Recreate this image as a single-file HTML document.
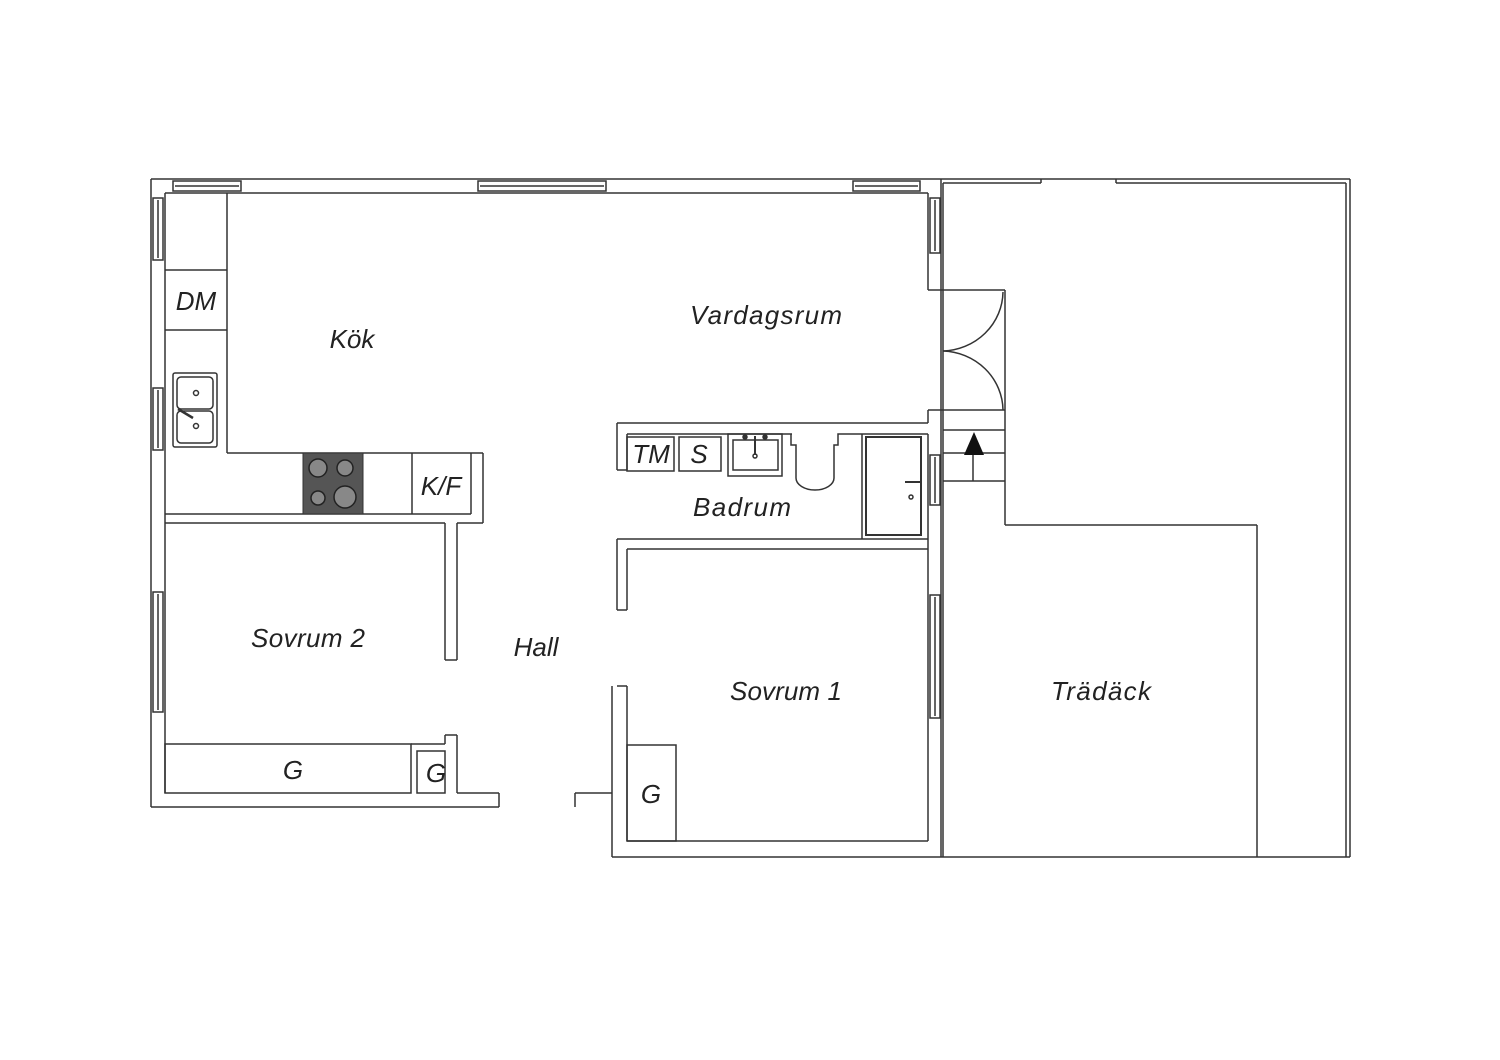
<!DOCTYPE html>
<html><head><meta charset="utf-8"><style>
html,body{margin:0;padding:0;background:#fff;}
svg{display:block}
text{font-family:"Liberation Sans",sans-serif;font-style:italic;fill:#222;}
</style></head><body>
<svg width="1500" height="1060" viewBox="0 0 1500 1060" xmlns="http://www.w3.org/2000/svg">
<g fill="none" stroke="#333" stroke-width="1.5">
<line x1="151" y1="179" x2="1350" y2="179"/>
<line x1="151" y1="179" x2="151" y2="807"/>
<line x1="151" y1="807" x2="499" y2="807"/>
<line x1="499" y1="807" x2="499" y2="793"/>
<line x1="457" y1="793" x2="499" y2="793"/>
<line x1="575" y1="807" x2="575" y2="793"/>
<line x1="575" y1="793" x2="612" y2="793"/>
<line x1="612" y1="686" x2="612" y2="857"/>
<line x1="612" y1="857" x2="1350" y2="857"/>
<line x1="165" y1="193" x2="928" y2="193"/>
<line x1="165" y1="193" x2="165" y2="793"/>
<line x1="928" y1="193" x2="928" y2="290"/>
<line x1="928" y1="290" x2="1005" y2="290"/>
<line x1="941" y1="179" x2="941" y2="857"/>
<line x1="943" y1="183" x2="943" y2="857"/>
<rect x="173" y="181" width="68" height="10"/><line x1="175" y1="186" x2="239" y2="186"/>
<rect x="478" y="181" width="128" height="10"/><line x1="480" y1="186" x2="604" y2="186"/>
<rect x="853" y="181" width="67" height="10"/><line x1="855" y1="186" x2="918" y2="186"/>
<rect x="153" y="198" width="10" height="62"/><line x1="158" y1="200" x2="158" y2="258"/>
<rect x="153" y="388" width="10" height="62"/><line x1="158" y1="390" x2="158" y2="448"/>
<rect x="153" y="592" width="10" height="120"/><line x1="158" y1="594" x2="158" y2="710"/>
<rect x="930" y="198" width="10" height="55"/><line x1="935" y1="200" x2="935" y2="251"/>
<rect x="930" y="455" width="10" height="50"/><line x1="935" y1="457" x2="935" y2="503"/>
<rect x="930" y="595" width="10" height="123"/><line x1="935" y1="597" x2="935" y2="716"/>
<line x1="227" y1="193" x2="227" y2="453"/>
<line x1="227" y1="453" x2="483" y2="453"/>
<line x1="165" y1="270" x2="227" y2="270"/>
<line x1="165" y1="330" x2="227" y2="330"/>
<line x1="165" y1="514" x2="471" y2="514"/>
<line x1="471" y1="453" x2="471" y2="514"/>
<line x1="412" y1="453" x2="412" y2="514"/>
<line x1="483" y1="453" x2="483" y2="523"/>
<line x1="165" y1="523" x2="445" y2="523"/>
<line x1="457" y1="523" x2="483" y2="523"/>
<rect x="173" y="373" width="44" height="74" rx="2"/>
<rect x="177" y="377" width="36" height="32" rx="4"/>
<rect x="177" y="411" width="36" height="32" rx="4"/>
<circle cx="196" cy="393" r="2.5"/><circle cx="196" cy="426" r="2.5"/>
<line x1="178" y1="409" x2="193" y2="418" stroke-width="2.5"/>
<line x1="445" y1="523" x2="445" y2="660"/>
<line x1="457" y1="523" x2="457" y2="660"/>
<line x1="445" y1="660" x2="457" y2="660"/>
<rect x="165" y="744" width="246" height="49"/>
<line x1="445" y1="744" x2="411" y2="744"/>
<line x1="445" y1="735" x2="445" y2="744"/>
<line x1="445" y1="735" x2="457" y2="735"/>
<line x1="457" y1="735" x2="457" y2="793"/>
<rect x="417" y="751" width="28" height="42"/>
<line x1="627" y1="549" x2="928" y2="549"/>
<line x1="627" y1="549" x2="627" y2="610"/>
<line x1="617" y1="539" x2="617" y2="610"/>
<line x1="617" y1="610" x2="627" y2="610"/>
<line x1="617" y1="539" x2="928" y2="539"/>
<line x1="617" y1="686" x2="627" y2="686"/>
<line x1="627" y1="686" x2="627" y2="841"/>
<line x1="627" y1="841" x2="928" y2="841"/>
<line x1="928" y1="410" x2="928" y2="423"/>
<line x1="928" y1="434" x2="928" y2="841"/>
<rect x="627" y="745" width="49" height="96"/>
<line x1="617" y1="423" x2="928" y2="423"/>
<line x1="617" y1="423" x2="617" y2="470"/>
<line x1="617" y1="470" x2="627" y2="470"/>
<line x1="627" y1="434" x2="792" y2="434"/>
<line x1="627" y1="434" x2="627" y2="470"/>
<rect x="627" y="437" width="47" height="34"/>
<rect x="679" y="437" width="42" height="34"/>
<rect x="728" y="434" width="54" height="42"/>
<rect x="733" y="440" width="45" height="30"/>
<line x1="755" y1="436" x2="755" y2="455" stroke-width="2"/>
<circle cx="755" cy="456" r="2"/>
<circle cx="745" cy="437" r="2" fill="#333"/><circle cx="765" cy="437" r="2" fill="#333"/>
<path d="M791 434 V445 H796 V478 A19 12 0 0 0 834 478 V445 H838 V434 H928"/>
<line x1="862" y1="434" x2="862" y2="539"/>
<rect x="866" y="437" width="55" height="98" stroke-width="2"/>
<line x1="905" y1="482" x2="922" y2="482" stroke-width="2"/>
<circle cx="911" cy="497" r="2"/>
<line x1="928" y1="410" x2="1005" y2="410"/>
<line x1="1005" y1="290" x2="1005" y2="525"/>
<path d="M1003 292 A62 60 0 0 1 943 351"/>
<path d="M943 351 A62 60 0 0 1 1003 410"/>
<line x1="943" y1="430" x2="1005" y2="430"/>
<line x1="943" y1="453" x2="1005" y2="453"/>
<line x1="943" y1="481" x2="1005" y2="481"/>
<line x1="973" y1="453" x2="973" y2="481"/>
<line x1="943" y1="183" x2="1041" y2="183"/>
<line x1="1041" y1="179" x2="1041" y2="183"/>
<line x1="1116" y1="179" x2="1116" y2="183"/>
<line x1="1116" y1="183" x2="1346" y2="183"/>
<line x1="1346" y1="183" x2="1346" y2="857"/>
<line x1="1350" y1="179" x2="1350" y2="857"/>
<line x1="1005" y1="525" x2="1257" y2="525"/>
<line x1="1257" y1="525" x2="1257" y2="857"/>
</g>
<polygon points="974,432 964,455 984,455" fill="#111"/>
<rect x="303" y="453" width="60" height="61" fill="#555" stroke="#333"/>
<g fill="#888" stroke="#222" stroke-width="1.5">
<circle cx="318" cy="468" r="9"/><circle cx="345" cy="468" r="8"/>
<circle cx="318" cy="498" r="7"/><circle cx="345" cy="497" r="11"/>
</g>
<g font-size="26">
<text x="352" y="348" text-anchor="middle">Kök</text>
<text x="766" y="324" text-anchor="middle" textLength="152">Vardagsrum</text>
<text x="742" y="516" text-anchor="middle" textLength="98">Badrum</text>
<text x="308" y="647" text-anchor="middle" textLength="114">Sovrum 2</text>
<text x="536" y="656" text-anchor="middle">Hall</text>
<text x="786" y="700" text-anchor="middle" textLength="112">Sovrum 1</text>
<text x="1101" y="700" text-anchor="middle" textLength="100">Trädäck</text>
<text x="196" y="310" text-anchor="middle">DM</text>
<text x="441" y="495" text-anchor="middle">K/F</text>
<text x="651" y="463" text-anchor="middle">TM</text>
<text x="699" y="463" text-anchor="middle">S</text>
<text x="293" y="779" text-anchor="middle">G</text>
<text x="436" y="782" text-anchor="middle">G</text>
<text x="651" y="803" text-anchor="middle">G</text>
</g>
</svg>
</body></html>
